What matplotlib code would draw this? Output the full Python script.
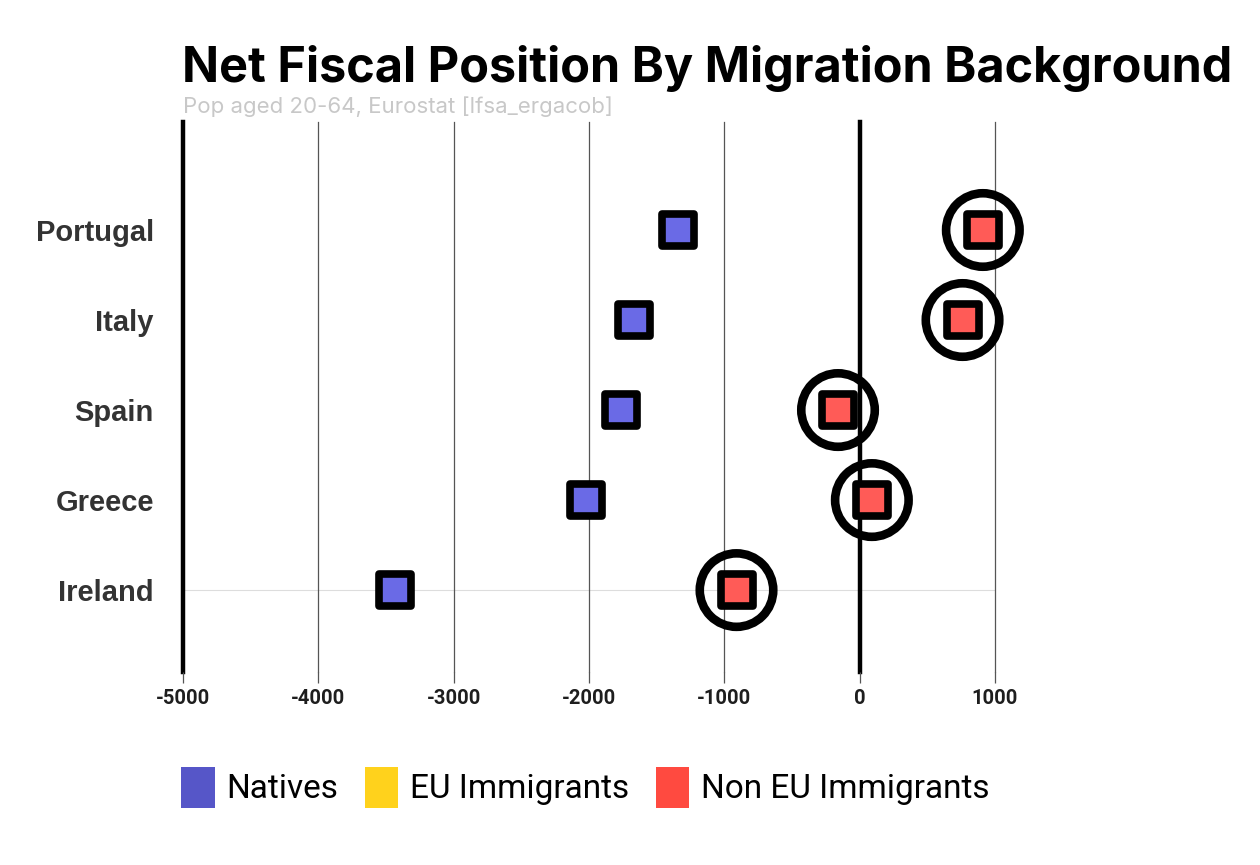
import matplotlib.pyplot as plt
from matplotlib.patches import Patch

countries = ["Portugal", "Italy", "Spain", "Greece", "Ireland"]
natives = [-1340, -1670, -1760, -2020, -3430]
non_eu = [910, 760, -160, 90, -910]
eu = []  # in legend only, no points drawn
x_ticks = [-5000, -4000, -3000, -2000, -1000, 0, 1000]
legend_labels = ["Natives", "EU Immigrants", "Non EU Immigrants"]

c_nat = "#6a6ae6"
c_red = "#ff5b57"
leg_colors = ["#5656c8", "#ffd21c", "#ff4a40"]

fig = plt.figure(figsize=(12.6, 8.65), dpi=100)
ax = fig.add_axes([0.1452, 0.2231, 0.7897 - 0.1452, 0.859 - 0.2231])

ypos = list(range(len(countries)))[::-1]  # Portugal on top

# grid lines, -5000 and 0 drawn heavy
for x in x_ticks:
    heavy = x in (-5000, 0)
    ax.axvline(x, color="black" if heavy else "#555555", lw=3.2 if heavy else 0.9,
               zorder=1, clip_on=False)
ax.axhline(ypos[-1], color="#dddddd", lw=0.8, zorder=0.5)

ax.scatter(natives, ypos, marker="s", s=510, c=c_nat, edgecolors="black",
           linewidths=5.5, zorder=4, clip_on=False)
ax.scatter(non_eu, ypos, marker="s", s=510, c=c_red, edgecolors="black",
           linewidths=5.5, zorder=4, clip_on=False)
# circles round the non-EU points
ax.scatter(non_eu, ypos, marker="o", s=2800, facecolors="none", edgecolors="black",
           linewidths=6.2, zorder=3, clip_on=False)

ax.set_xlim(-5000, 1000)
ax.set_ylim(-0.91, 5.2)
ax.set_yticks(ypos)
ax.set_yticklabels(countries, fontsize=21, fontweight="bold", color="#333333",
                   family="Liberation Sans")
ax.set_xticks(x_ticks)
ax.set_xticklabels([str(v) for v in x_ticks], fontsize=14.5, fontweight="bold",
                   color="#1e1e1e", family="Roboto")
ax.tick_params(axis="y", length=0, pad=21)
ax.tick_params(axis="x", length=8, width=0.9, color="#555555", pad=4)
for s in ax.spines.values():
    s.set_visible(False)

fig.text(0.1444, 0.905, "Net Fiscal Position By Migration Background", fontsize=35,
         fontweight="bold", family="Inter", color="black")
fig.text(0.1452, 0.869, "Pop aged 20-64, Eurostat [lfsa_ergacob]", fontsize=16,
         family="Inter", color="#c8c8c8")

handles = [Patch(facecolor=c, edgecolor="none") for c in leg_colors]
fig.legend(handles, legend_labels, loc="upper left", bbox_to_anchor=(0.12, 0.148),
           ncol=3, frameon=False, handlelength=1.0, handleheight=1.5,
           handletextpad=0.35, columnspacing=0.8, prop={"family": "Roboto", "size": 24})

fig.savefig("out.png", dpi=100, facecolor="white")
